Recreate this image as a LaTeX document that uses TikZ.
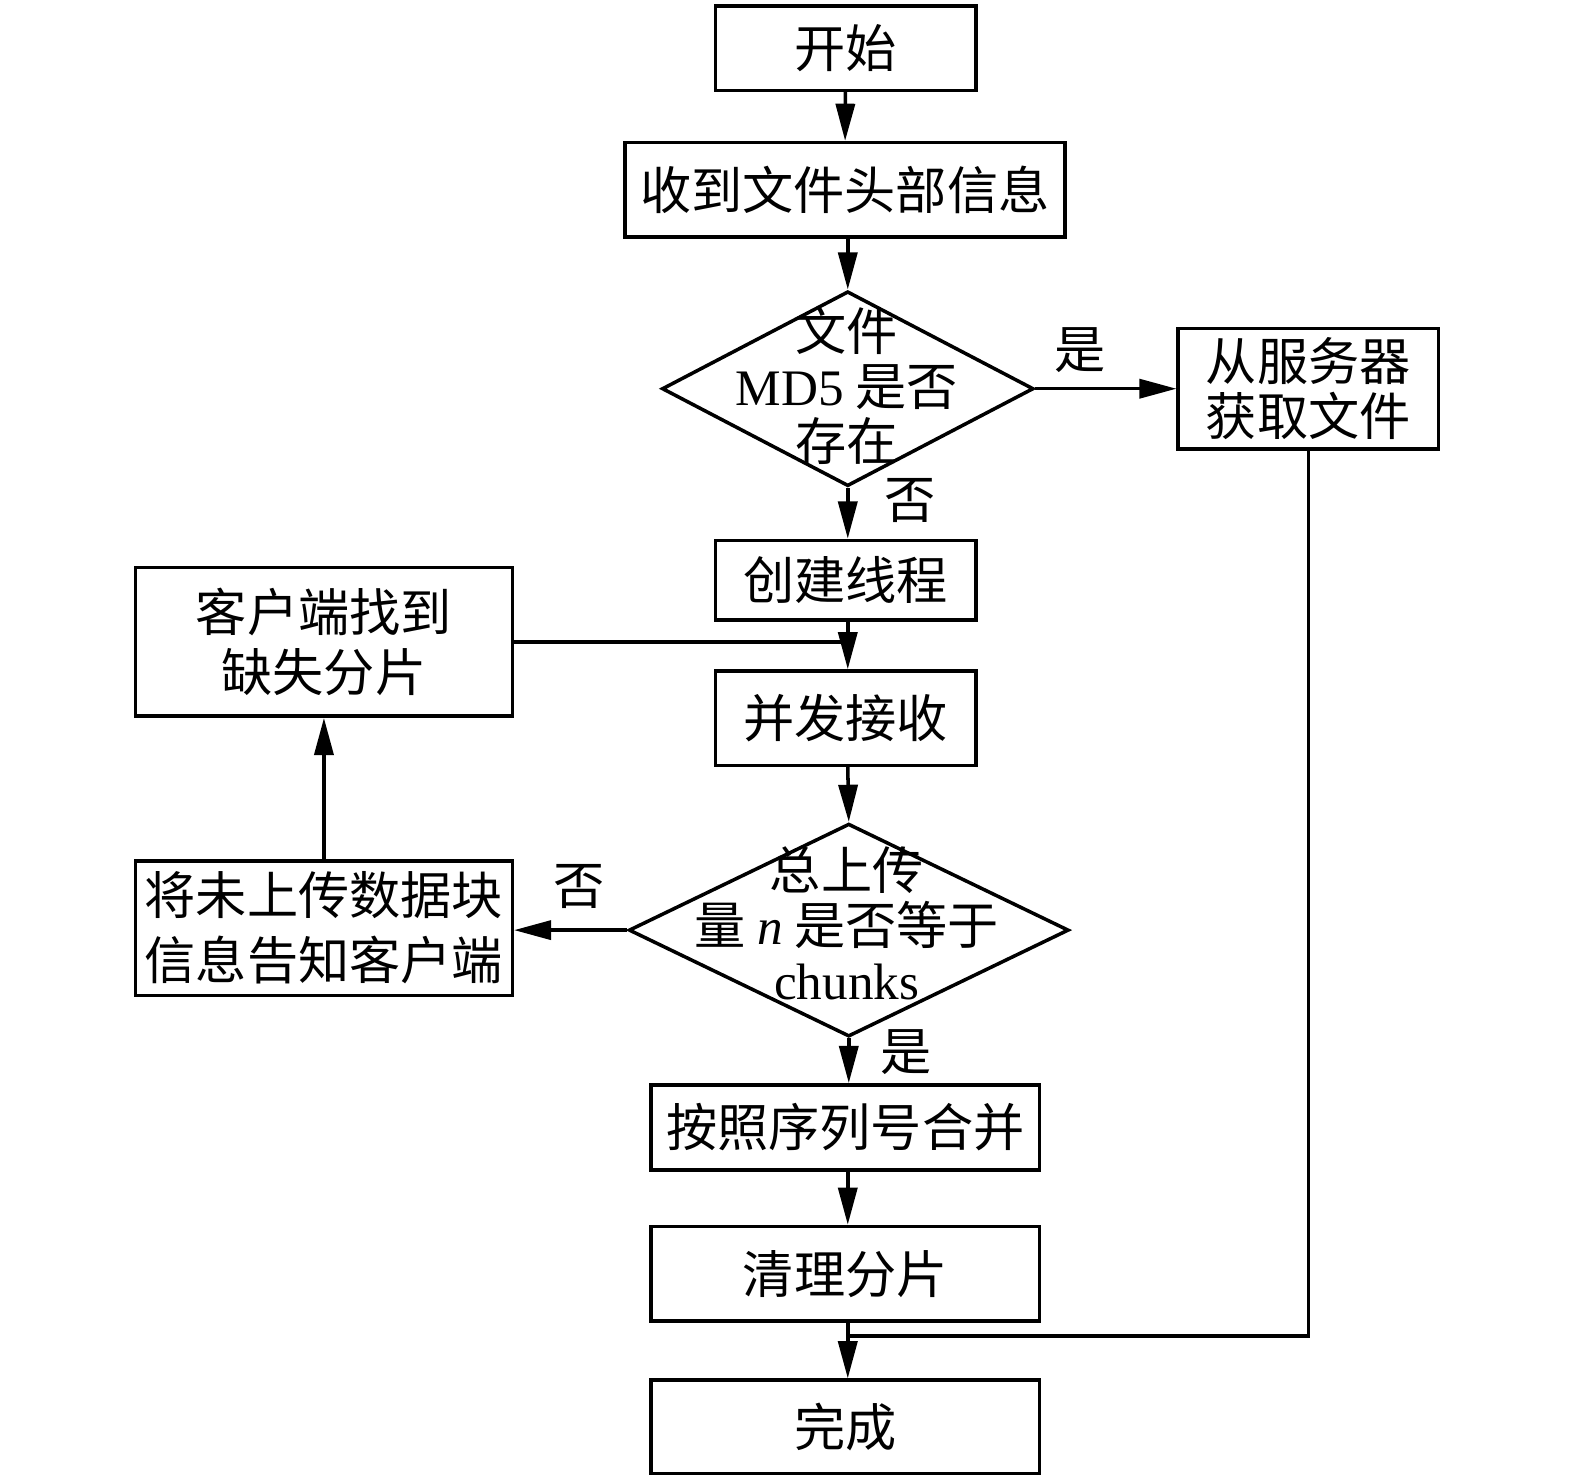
\documentclass[tikz,border=0pt]{standalone}
\usepackage{fontspec}
\setmainfont{Noto Sans CJK SC}
\newfontfamily\lat{Liberation Serif}
\usetikzlibrary{arrows.meta}
\usetikzlibrary{shapes.geometric}

\begin{document}
\begin{tikzpicture}[
  line width=1pt,
  box/.style={rectangle,draw,inner sep=0pt,align=center,font=\fontsize{14.5}{17}\selectfont},
  dia/.style={diamond,draw,inner sep=0pt},
  diatext/.style={align=center,inner sep=0pt,font=\fontsize{14.5}{15.6}\selectfont},
  lbl/.style={inner sep=0pt,font=\fontsize{14.5}{17}\selectfont},
  arr/.style={-{Triangle[length=3.7mm,width=1.9mm]}}]
\useasboundingbox (0,0) rectangle (15.68,14.72);
\node[box,minimum width=2.59cm,minimum height=0.84cm] (start) at (8.42,14.24) {开始};
\node[box,minimum width=4.38cm,minimum height=0.94cm] (recv) at (8.41,12.83) {收到文件头部信息};
\node[dia,minimum width=3.70cm,minimum height=1.94cm] (d1) at (8.44,10.85) {};
\node[diatext] (d1t) at (8.43,10.88) {文件\\{\lat MD5} 是否\\存在};
\node[box,minimum width=2.59cm,minimum height=1.20cm,font=\fontsize{14.5}{15.6}\selectfont] (server) at (13.025,10.85) {从服务器\\获取文件};
\node[box,minimum width=2.59cm,minimum height=0.79cm] (create) at (8.42,8.945) {创建线程};
\node[box,minimum width=3.75cm,minimum height=1.48cm] (client) at (3.225,8.33) {客户端找到\\缺失分片};
\node[box,minimum width=2.59cm,minimum height=0.94cm] (recvc) at (8.42,7.57) {并发接收};
\node[dia,minimum width=4.38cm,minimum height=2.12cm] (d2) at (8.45,5.46) {};
\node[diatext] (d2t) at (8.43,5.53) {总上传\\量 {\lat\itshape n} 是否等于\\{\lat chunks}};
\node[box,minimum width=3.75cm,minimum height=1.34cm,font=\fontsize{14.5}{18.4}\selectfont] (notify) at (3.225,5.48) {将未上传数据块\\信息告知客户端};
\node[box,minimum width=3.87cm,minimum height=0.85cm] (merge) at (8.415,3.495) {按照序列号合并};
\node[box,minimum width=3.87cm,minimum height=0.94cm] (clean) at (8.415,2.04) {清理分片};
\node[box,minimum width=3.87cm,minimum height=0.93cm] (done) at (8.415,0.515) {完成};
\coordinate (join) at (8.44,1.42);

\draw[arr] (start) -- (recv);
\draw[arr] (recv.south -| d1.north) -- (d1.north);
\draw[arr] (d1.east) -- node[lbl,pos=0.32,above=0.14cm] (yes1) {是} (server.west);
\draw[arr] (d1.south) -- node[lbl,pos=0.25,right=0.35cm] (no1) {否} (d1.south |- create.north);
\draw[arr] (create.south -| d1.south) -- (recvc.north -| d1.south);
\draw (client.east) -- (client.east -| d1.south);
\draw[arr] (recvc.south -| d1.south) -- (d2.north);
\draw[arr] (d2.west) -- node[lbl,pos=0.42,above=0.2cm] (no2) {否} (notify.east |- d2.west);
\draw[arr] (notify.north) -- (client.south);
\draw[arr] (d2.south) -- node[lbl,pos=0.3,right=0.3cm] (yes2) {是} (merge.north -| d2.south);
\draw[arr] (merge.south -| join) -- (clean.north -| join);
\draw[arr] (clean.south -| join) -- (done.north -| join);
\draw (server.south) |- (join);

\end{tikzpicture}
\end{document}
